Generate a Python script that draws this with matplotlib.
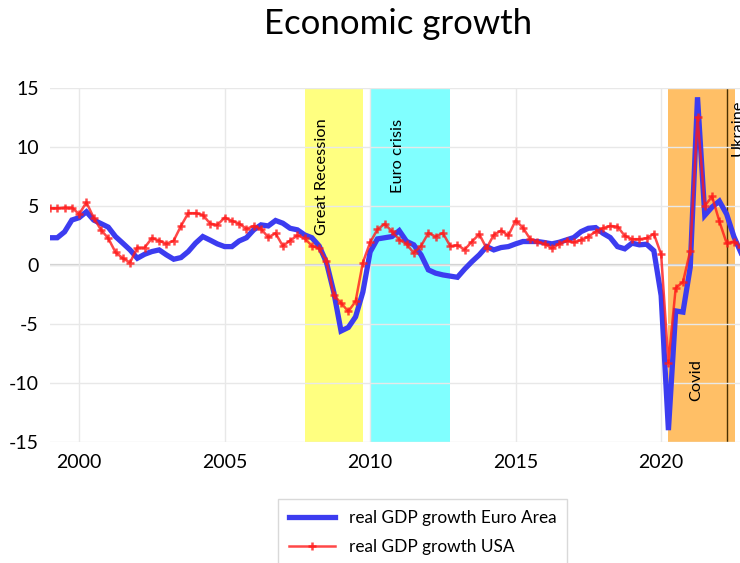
import numpy as np
from matplotlib import pyplot as plt

plt.rcParams['font.family'] = ['Lato', 'DejaVu Sans']
plt.rcParams['axes.unicode_minus'] = False

# quarterly data, 1999Q1 .. 2022Q4
start_year = 1999

euro_area = [2.3, 2.3, 2.8, 3.8, 4.0, 4.5, 3.8, 3.5, 3.2, 2.4,
             1.84, 1.27, 0.56, 0.9, 1.13, 1.27, 0.85, 0.48, 0.62, 1.13,
             1.84, 2.4, 2.1, 1.78, 1.55, 1.55, 2.03, 2.3, 2.97, 3.39,
             3.3, 3.76, 3.53, 3.1, 2.97, 2.54, 2.3, 1.6, 0.2, -2.3,
             -5.6, -5.3, -4.4, -2.3, 1.1, 2.2, 2.3, 2.4, 2.9, 2.0,
             1.7, 0.85, -0.42, -0.7, -0.85, -0.95, -1.05, -0.35, 0.28, 0.85,
             1.55, 1.27, 1.47, 1.55, 1.78, 1.98, 1.98, 1.98, 1.89, 1.78,
             1.92, 2.12, 2.32, 2.82, 3.1, 3.16, 2.68, 2.32, 1.55, 1.36,
             1.84, 1.7, 1.75, 1.2, -2.6, -14.0, -3.9, -4.0, -0.2, 14.2,
             4.2, 4.9, 5.4, 4.3, 2.4, 1.0]

usa = [4.8, 4.8, 4.86, 4.86, 4.3, 5.3, 4.0, 2.97, 2.26, 1.07,
       0.56, 0.2, 1.47, 1.47, 2.26, 2.06, 1.78, 2.06, 3.3, 4.38,
       4.38, 4.24, 3.5, 3.39, 4.0, 3.73, 3.5, 3.05, 3.3, 3.05,
       2.34, 2.68, 1.6, 2.06, 2.49, 2.26, 1.6, 1.4, 0.3, -2.57,
       -3.23, -3.94, -3.09, 0.2, 1.9, 3.0, 3.47, 2.84, 2.13, 1.78,
       1.0, 1.6, 2.7, 2.4, 2.7, 1.6, 1.66, 1.3, 1.98, 2.6,
       1.41, 2.54, 2.91, 2.49, 3.76, 3.16, 2.18, 1.98, 1.78, 1.41,
       1.78, 2.06, 1.92, 2.12, 2.4, 2.82, 3.11, 3.3, 3.25, 2.46,
       2.18, 2.18, 2.26, 2.63, 0.9, -8.3, -1.96, -1.45, 1.19, 12.5,
       5.0, 5.8, 3.7, 1.84, 1.98, 1.5]

quarters = start_year + np.arange(len(euro_area)) / 4

# episodes shaded on the chart
episodes = ["Great Recession", "Euro crisis", "Covid"]
episode_start = [2007.75, 2010.0, 2020.25]
episode_end = [2009.75, 2012.75, 2022.55]
episode_colors = ["#ffff80", "#80ffff", "#ffbf66"]
ukraine_date = 2022.27

fig = plt.figure(figsize=(7.4, 5.63), dpi=100)
ax = fig.add_axes([0.0676, 0.215, 0.9324, 0.629])

for s, e, c in zip(episode_start, episode_end, episode_colors):
    ax.axvspan(s, e, color=c, lw=0, zorder=0.5)

ax.axvline(ukraine_date, color="#4a3000", lw=1, zorder=1.2)

ax.plot(quarters, euro_area, color="#3c3cf0", lw=3.8, solid_joinstyle="miter",
        label="real GDP growth Euro Area", zorder=2)
ax.plot(quarters, usa, color="#ff1a1a", alpha=0.8, lw=1.8, marker="+", ms=5.5,
        mew=1.8, label="real GDP growth USA", zorder=3)

# episode labels
ax.text(2008.33, 12.4, "Great Recession", rotation=90, ha="center", va="top", fontsize=11.8)
ax.text(2010.95, 12.4, "Euro crisis", rotation=90, ha="center", va="top", fontsize=11.8)
ax.text(2021.2, -11.5, "Covid", rotation=90, ha="center", va="bottom", fontsize=11.8)
# cut off at the right edge, as in the source
ax.text(2022.62, 14.0, "Ukraine", rotation=90, ha="center", va="top", fontsize=11.8, clip_on=False)

ax.set_xlim(1999.0, 2022.71)
ax.set_ylim(-15, 15)
ax.set_xticks([2000, 2005, 2010, 2015, 2020])
ax.set_yticks([-15, -10, -5, 0, 5, 10, 15])
ax.tick_params(length=0, labelsize=14, pad=8)
ax.tick_params(axis="x", pad=9)
ax.grid(True, color="#e8e8e8", lw=1)
ax.axhline(0, color="#cfcfcf", lw=1.6, zorder=1.5)
for sp in ax.spines.values():
    sp.set_visible(False)

fig.text(0.538, 0.958, "Economic growth", ha="center", va="center", fontsize=25)

fig.legend(loc="upper left", bbox_to_anchor=(0.376, 0.113), fontsize=12.4,
           frameon=True, fancybox=False, edgecolor="#d9d9d9", framealpha=1,
           handlelength=2.7, borderpad=0.6, labelspacing=0.75, borderaxespad=0)

fig.savefig("out.png", dpi=100)
